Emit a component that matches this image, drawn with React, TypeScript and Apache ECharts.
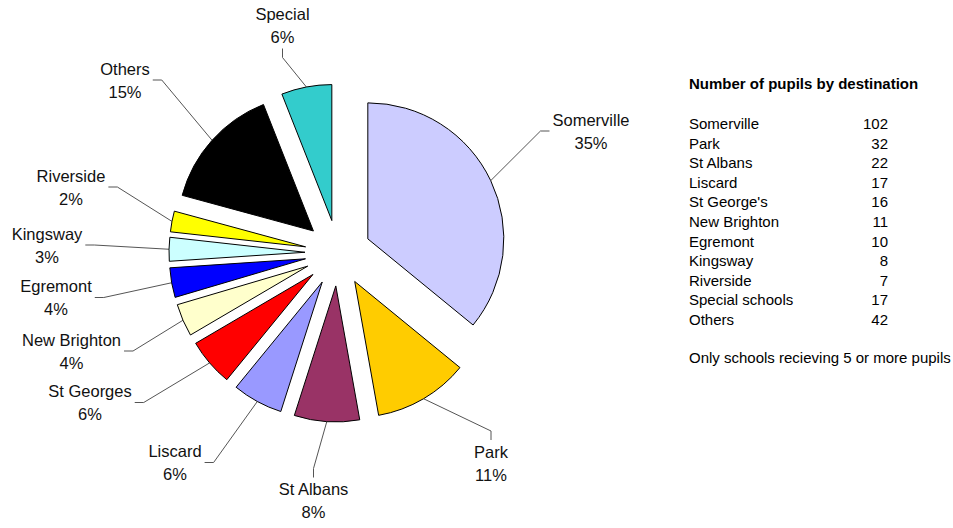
import React, { useEffect, useRef } from "react";
import * as echarts from "echarts";

const sliceNames = ["Somerville", "Park", "St Albans", "Liscard", "St Georges", "New Brighton", "Egremont", "Kingsway", "Riverside", "Others", "Special"];
const sliceValues = [102, 32, 22, 17, 16, 11, 10, 8, 7, 42, 17];
const slicePercentLabels = [35, 11, 8, 6, 6, 4, 4, 3, 2, 15, 6];
const sliceColors = ["#CCCCFF", "#FFCC00", "#993366", "#9999FF", "#FF0000", "#FFFFCC", "#0000FF", "#CCFFFF", "#FFFF00", "#000000", "#33CCCC"];

const tableTitle = "Number of pupils by destination";
const tableNames = ["Somerville", "Park", "St Albans", "Liscard", "St George's", "New Brighton", "Egremont", "Kingsway", "Riverside", "Special schools", "Others"];
const tableCounts = [102, 32, 22, 17, 16, 11, 10, 8, 7, 17, 42];
const footnote = "Only schools recieving 5 or more pupils";

// label text placement (centre of each two-line label block), layout only
const labelCenters: [number, number][] = [
  [591, 131], [491, 463], [313.5, 500.5], [175, 462.5], [90, 402.5], [71.5, 351],
  [56, 297.5], [47, 245], [71, 187], [125, 80], [282.5, 25.5],
];

const FONT = "'Liberation Sans', Arial, sans-serif";
const PIE_CENTER = [338, 253];
const PIE_RADIUS = 136;
const EXPLODE = 33;

export default function App() {
  const ref = useRef<HTMLDivElement>(null);
  useEffect(() => {
    document.body.style.margin = "0";
    if (!ref.current) return;
    const chart = echarts.init(ref.current, null, { renderer: "svg" });
    const graphics: any[] = [
      {
        type: "text",
        left: 689,
        top: 76,
        style: { text: tableTitle, font: `bold 15px ${FONT}`, fill: "#000" },
      },
    ];
    tableNames.forEach((n, i) => {
      graphics.push({
        type: "text",
        left: 689,
        top: 116 + i * 19.6,
        style: { text: n, font: `15px ${FONT}`, fill: "#000" },
      });
      graphics.push({
        type: "text",
        x: 888,
        y: 116 + i * 19.6,
        style: { text: String(tableCounts[i]), font: `15px ${FONT}`, fill: "#000", align: "right", verticalAlign: "top" },
      });
    });
    graphics.push({
      type: "text",
      left: 689,
      top: 350,
      style: { text: footnote, font: `15px ${FONT}`, fill: "#000" },
    });

    chart.setOption({
      animation: false,
      backgroundColor: "#fff",
      graphic: graphics,
      series: [
        {
          // exploded slices
          type: "pie",
          center: PIE_CENTER,
          radius: [0, PIE_RADIUS],
          startAngle: 90,
          clockwise: true,
          selectedMode: "multiple",
          selectedOffset: EXPLODE,
          itemStyle: { borderColor: "#000", borderWidth: 1 },
          emphasis: { disabled: true },
          label: { show: false },
          labelLine: { show: false },
          data: sliceNames.map((n, i) => ({
            name: n,
            value: sliceValues[i],
            selected: true,
            itemStyle: { color: sliceColors[i] },
          })),
        },
        {
          // invisible twin carrying the labels and leader lines
          type: "pie",
          silent: true,
          center: PIE_CENTER,
          radius: [0, PIE_RADIUS + EXPLODE],
          startAngle: 90,
          clockwise: true,
          selectedMode: false,
          avoidLabelOverlap: false,
          itemStyle: { color: "rgba(0,0,0,0)", borderWidth: 0 },
          emphasis: { disabled: true },
          label: {
            show: true,
            position: "outside",
            fontFamily: FONT,
            fontSize: 16.5,
            color: "#111",
            lineHeight: 23,
            padding: [0, 3],
            formatter: (p: any) => `${p.name}\n${slicePercentLabels[p.dataIndex]}%`,
          },
          labelLine: {
            show: true,
            length: 10,
            length2: 9,
            lineStyle: { color: "#555", width: 1 },
          },
          labelLayout: (p: any) => {
            const c = labelCenters[p.dataIndex];
            return { x: c[0], y: c[1], align: "center", verticalAlign: "middle" };
          },
          data: sliceNames.map((n, i) => ({
            name: n,
            value: sliceValues[i],
          })),
        },
      ],
    });
    return () => chart.dispose();
  }, []);
  return <div ref={ref} style={{ width: 953, height: 528 }} />;
}
